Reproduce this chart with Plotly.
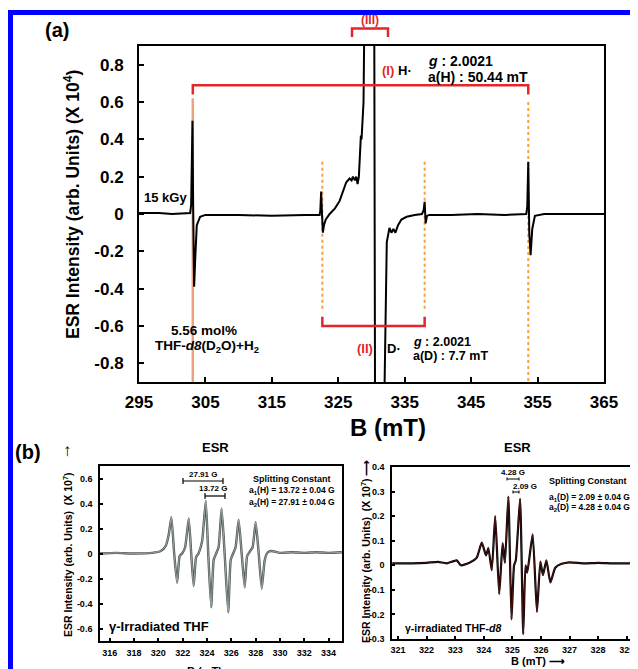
import plotly.graph_objects as go

# page body has an 8px margin: figure is shifted by OFF, so lay it out in page pixels minus OFF
OFF = 8
W, H = 638 - OFF, 669 - OFF

# ---------------- data: panel (a) ----------------
a_B = [295, 298, 300, 302.7, 302.85, 302.95, 303.05, 303.15, 303.3, 303.45, 303.7, 304.2, 305,
       310, 315, 320, 322.2, 322.3, 322.42, 322.55, 322.68, 322.85, 323.1, 323.7, 324.5, 325.2,
       325.7, 326.2, 326.7, 327.0, 327.2, 327.5, 327.7, 327.9, 328.1, 328.3, 328.4, 328.5, 328.6,
       328.8, 329.0, 330.4, 330.55, 331.8, 332.3, 332.7, 333.0, 333.3, 333.6, 334.0, 334.5, 335.3,
       336.5, 337.6, 337.85, 338.0, 338.15, 338.35, 338.7, 342, 346, 350, 353.3, 353.45, 353.6,
       353.75, 353.95, 354.2, 354.6, 356, 360, 365]
a_I = [0.005, 0.005, 0.0, 0.005, 0.05, 0.2, 0.5, 0.05, -0.39, -0.25, -0.06, -0.015, -0.005,
       -0.005, -0.01, -0.005, -0.005, 0.02, 0.12, 0.0, -0.1, -0.06, -0.03, 0.0, 0.03, 0.07,
       0.12, 0.17, 0.19, 0.18, 0.2, 0.18, 0.2, 0.16, 0.2, 0.36, 0.42, 0.4, 0.46,
       0.6, 1.3, 1.3, -1.3, -1.3, -0.15, -0.075, -0.1, -0.08, -0.1, -0.06, -0.03, -0.015,
       -0.005, 0.0, 0.02, 0.065, -0.05, -0.01, -0.005, -0.005, 0.0, -0.005, 0.0, 0.04, 0.28,
       -0.1, -0.22, -0.08, -0.01, 0.0, 0.0, 0.0]
h_lines = [303.1, 353.6]          # (I) H· doublet
d_lines = [322.6, 338.0]          # (II) D· outer lines
a_xticks = [295, 305, 315, 325, 335, 345, 355, 365]
a_yticks = [0.8, 0.6, 0.4, 0.2, 0, -0.2, -0.4, -0.6, -0.8]
a_ytext = ["0.8", "0.6", "0.4", "0.2", "0", "-0.2", "-0.4", "-0.6", "-0.8"]

# ---------------- data: panel (b) left (THF) ----------------
bl_B = [315.2, 316.5, 318, 319.5, 320.2, 320.6, 320.85, 321.07, 321.3, 321.54, 321.75, 321.95,
        322.2, 322.5, 322.7, 322.9, 323.1, 323.3, 323.6, 323.9, 324.1, 324.34, 324.55, 324.75,
        324.95, 325.2, 325.45, 325.74, 325.95, 326.15, 326.35, 326.6, 326.85, 327.1, 327.3,
        327.55, 327.75, 328.0, 328.25, 328.5, 328.75, 329.0, 329.3, 330, 331, 332, 333, 334, 335.1]
bl_I = [0.0, 0.005, 0.0, 0.005, 0.02, 0.06, 0.15, 0.29, 0.0, -0.235, -0.02, 0.0,
        0.05, 0.28, 0.0, -0.26, -0.03, 0.0, 0.1, 0.42, 0.0, -0.43, -0.05, 0.0,
        0.05, 0.36, 0.0, -0.47, -0.05, 0.0, 0.05, 0.27, 0.0, -0.27, -0.02,
        0.02, 0.05, 0.25, 0.0, -0.28, -0.05, 0.01, 0.02, 0.005, 0.01, 0.005, 0.01, 0.005, 0.01]
bl_xticks = [316, 318, 320, 322, 324, 326, 328, 330, 332, 334]
bl_yticks = [0.6, 0.4, 0.2, 0, -0.2, -0.4, -0.6]
bl_ytext = ["0.6", "0.4", "0.2", "0", "-0.2", "-0.4", "-0.6"]

# ---------------- data: panel (b) right (THF-d8) ----------------
br_B = [320.8, 321.5, 322.0, 322.4, 322.7, 323.05, 323.2, 323.5, 323.75, 323.93, 324.08, 324.16,
        324.28, 324.4, 324.54, 324.66, 324.74, 324.86, 324.97, 325.06, 325.12, 325.27, 325.38,
        325.46, 325.52, 325.71, 325.86, 325.98, 326.07, 326.19, 326.33, 326.5, 326.7, 327.0,
        327.5, 328.0, 328.5, 329.3]
br_I = [0.008, 0.008, 0.01, 0.014, 0.008, 0.02, 0.0, 0.01, 0.03, 0.092, 0.04, 0.07,
        -0.02, 0.2, -0.117, 0.09, 0.01, 0.28, -0.22, 0.0, 0.02, 0.27, -0.28,
        0.0, -0.03, 0.126, -0.19, 0.015, -0.04, 0.02, -0.07, -0.01, 0.005, 0.012,
        0.008, 0.01, 0.008, 0.008]
br_xticks = [321, 322, 323, 324, 325, 326, 327, 328, 329]
br_yticks = [0.4, 0.3, 0.2, 0.1, 0, -0.1, -0.2, -0.3]
br_ytext = ["0.4", "0.3", "0.2", "0.1", "0", "-0.1", "-0.2", "-0.3"]


def X(px):
    return (px - OFF) / W


def Y(py):
    return 1 - (py - OFF) / H


FONT = "Arial, Liberation Sans, sans-serif"
RED = "#e3262a"
ORANGE = "#f5a043"

fig = go.Figure()

# panel (a)
fig.add_trace(go.Scatter(x=a_B, y=a_I, mode="lines", line=dict(color="black", width=2),
                         xaxis="x", yaxis="y", showlegend=False))
# panel (b) left: grey line with dark outline
fig.add_trace(go.Scatter(x=bl_B, y=bl_I, mode="lines", line=dict(color="#505656", width=2.4, shape="spline", smoothing=0.5),
                         xaxis="x2", yaxis="y2", showlegend=False))
fig.add_trace(go.Scatter(x=bl_B, y=bl_I, mode="lines", line=dict(color="#a3adad", width=0.9, shape="spline", smoothing=0.5),
                         xaxis="x2", yaxis="y2", showlegend=False))
# panel (b) right
fig.add_trace(go.Scatter(x=br_B, y=br_I, mode="lines", line=dict(color="black", width=2.2, shape="spline", smoothing=0.5),
                         xaxis="x3", yaxis="y3", showlegend=False))
fig.add_trace(go.Scatter(x=br_B, y=br_I, mode="lines", line=dict(color="#7a2424", width=0.6, shape="spline", smoothing=0.5),
                         xaxis="x3", yaxis="y3", showlegend=False))

axis_common = dict(showgrid=False, zeroline=False, showline=True, mirror=True, linecolor="black",
                   ticks="inside", tickcolor="black", automargin=False)

fig.update_layout(
    width=W, height=H, autosize=False,
    margin=dict(l=0, r=0, t=0, b=0, pad=0, autoexpand=False),
    paper_bgcolor="white", plot_bgcolor="white",
    font=dict(family=FONT, color="black"),
    xaxis=dict(domain=[X(139), X(604)], range=[295, 365], tickvals=a_xticks, anchor="y",
               linewidth=2, ticklen=5, tickwidth=2, ticklabelstandoff=4,
               tickfont=dict(size=17, weight="bold"), **axis_common),
    yaxis=dict(domain=[Y(382), Y(46)], range=[-0.9, 0.9], tickvals=a_yticks, ticktext=a_ytext,
               anchor="x", linewidth=2, ticklen=5, tickwidth=2, ticklabelstandoff=10,
               tickfont=dict(size=17, weight="bold"), **axis_common),
    xaxis2=dict(domain=[X(100), X(342)], range=[315.2, 335.1], tickvals=bl_xticks, anchor="y2",
                linewidth=1.6, ticklen=3, tickwidth=1.5, ticklabelstandoff=2,
                tickfont=dict(size=9, weight="bold"), **axis_common),
    yaxis2=dict(domain=[Y(641), Y(466)], range=[-0.7, 0.7], tickvals=bl_yticks, ticktext=bl_ytext,
                anchor="x2", linewidth=1.6, ticklen=3, tickwidth=1.5, ticklabelstandoff=4,
                tickfont=dict(size=9, weight="bold"), **axis_common),
    xaxis3=dict(domain=[X(392), X(635)], range=[320.79, 329.29], tickvals=br_xticks, anchor="y3",
                linewidth=1.6, ticklen=3, tickwidth=1.5, ticklabelstandoff=1,
                tickfont=dict(size=9, weight="bold"), **axis_common),
    yaxis3=dict(domain=[Y(639), Y(467)], range=[-0.3, 0.4], tickvals=br_yticks, ticktext=br_ytext,
                anchor="x3", linewidth=1.6, ticklen=3, tickwidth=1.5, ticklabelstandoff=4,
                tickfont=dict(size=9, weight="bold"), **axis_common),
)

shapes = []
# blue frame
shapes.append(dict(type="line", xref="paper", yref="paper", x0=0, x1=1, y0=Y(12.5), y1=Y(12.5),
                   line=dict(color="#0000ff", width=5)))
shapes.append(dict(type="line", xref="paper", yref="paper", x0=X(10.5), x1=X(10.5), y0=Y(10), y1=0,
                   line=dict(color="#0000ff", width=5)))
# orange guide lines
shapes.append(dict(type="line", xref="x", yref="y", x0=h_lines[0], x1=h_lines[0], y0=0.62, y1=-0.9,
                   line=dict(color="#eca27c", width=2.5), layer="below"))
shapes.append(dict(type="line", xref="x", yref="y", x0=h_lines[1], x1=h_lines[1], y0=0.6, y1=-0.9,
                   line=dict(color=ORANGE, width=2, dash="dot"), layer="below"))
for d in d_lines:
    shapes.append(dict(type="line", xref="x", yref="y", x0=d, x1=d, y0=0.28, y1=-0.52,
                       line=dict(color=ORANGE, width=2, dash="dot"), layer="below"))
# red brackets (I) and (II)
shapes.append(dict(type="path", xref="x", yref="y",
                   path=f"M {h_lines[0]},0.64 L {h_lines[0]},0.69 L {h_lines[1]},0.69 L {h_lines[1]},0.64",
                   line=dict(color=RED, width=2.5)))
shapes.append(dict(type="path", xref="x", yref="y",
                   path=f"M {d_lines[0]},-0.55 L {d_lines[0]},-0.60 L {d_lines[1]},-0.60 L {d_lines[1]},-0.55",
                   line=dict(color=RED, width=2.5)))
# red bracket (III) above the plot
shapes.append(dict(type="path", xref="paper", yref="paper",
                   path=f"M {X(352)},{Y(37)} L {X(352)},{Y(28.5)} L {X(388)},{Y(28.5)} L {X(388)},{Y(37)}",
                   line=dict(color=RED, width=2.5)))


def hbar(x0, x1, y, tick=3, width=1.2):
    shapes.append(dict(type="line", xref="paper", yref="paper", x0=X(x0), x1=X(x1), y0=Y(y), y1=Y(y),
                       line=dict(color="black", width=width)))
    for xx in (x0, x1):
        shapes.append(dict(type="line", xref="paper", yref="paper", x0=X(xx), x1=X(xx),
                           y0=Y(y - tick), y1=Y(y + tick), line=dict(color="black", width=width)))


hbar(183, 223, 481)
hbar(205, 225, 496)
hbar(507, 519, 479, tick=1.5, width=1)
hbar(513, 519, 492, tick=1.5, width=1)

fig.update_layout(shapes=shapes)

anns = []


def ann(text, x, y, size, color="black", xanchor="center", yanchor="middle", angle=0):
    anns.append(dict(text=text, x=X(x), y=Y(y), xref="paper", yref="paper", showarrow=False,
                     xanchor=xanchor, yanchor=yanchor, textangle=angle,
                     font=dict(size=size, color=color, family=FONT)))


# panel (a) texts
ann("<b>(a)</b>", 57, 30, 20)
ann("<b>ESR Intensity (arb. Units) (X 10<sup>4</sup>)</b>", 72, 205, 17.5, angle=-90)
ann("<b>B (mT)</b>", 388, 427, 24)
ann("<b>15 kGy</b>", 142, 198, 13, xanchor="left")
ann("<b>5.56 mol%</b>", 204, 330, 13.5)
ann("<b>THF-<i>d8</i>(D<sub>2</sub>O)+H<sub>2</sub></b>", 207, 346, 13.5)
ann("<b>(I)</b>", 388, 70, 13, color=RED)
ann("<b>H·</b>", 405, 70, 13)
ann("<b><i>g</i> : 2.0021</b>", 426, 61, 14, xanchor="left")
ann("<b>a(H) : 50.44 mT</b>", 426, 77, 14, xanchor="left")
ann("<b>(II)</b>", 365, 348, 13, color=RED)
ann("<b>D·</b>", 394, 348, 13)
ann("<b><i>g</i> : 2.0021</b>", 411, 342, 12.5, xanchor="left")
ann("<b>a(D) : 7.7 mT</b>", 411, 356, 12.5, xanchor="left")
ann("<b>(III)</b>", 370, 20, 12, color=RED)

# panel (b) texts
ann("<b>(b)</b>", 13, 452, 20, xanchor="left")
ann("<b>↑</b>", 67, 450, 17)
ann("<b>ESR Intensity (arb. Units)  (X 10<sup>7</sup>)</b>", 67, 555, 10.5, angle=-90)
ann("<b>ESR</b>", 215, 448, 13)
ann("<b>27.91 G</b>", 203, 474, 8)
ann("<b>13.72 G</b>", 213, 488, 8)
ann("<b>Splitting Constant</b>", 292, 479, 9)
ann("<b>a<sub>1</sub>(H) = 13.72 ± 0.04 G</b>", 292, 490, 8.5)
ann("<b>a<sub>2</sub>(H) = 27.91 ± 0.04 G</b>", 292, 502, 8.5)
ann("<b>γ-Irradiated THF</b>", 107, 626, 13, xanchor="left")
ann("<b>B (mT)  ⟶</b>", 215, 663, 11, yanchor="top")

ann("<b>ESR Intensity (arb. Units)  (X 10<sup>7</sup>) ⟶</b>", 365, 552, 10.5, angle=-90)
ann("<b>ESR</b>", 517, 448, 13)
ann("<b>4.28 G</b>", 513, 472, 8)
ann("<b>2.09 G</b>", 525, 486, 8)
ann("<b>Splitting Constant</b>", 588, 481, 9)
ann("<b>a<sub>1</sub>(D) = 2.09 ± 0.04 G</b>", 589, 497, 8.5)
ann("<b>a<sub>2</sub>(D) = 4.28 ± 0.04 G</b>", 589, 508, 8.5)
ann("<b>γ-irradiated THF-<i>d8</i></b>", 403, 628, 10.5, xanchor="left")
ann("<b>B (mT) ⟶</b>", 538, 661, 11)

fig.update_layout(annotations=anns)

fig.write_html("out.html")
